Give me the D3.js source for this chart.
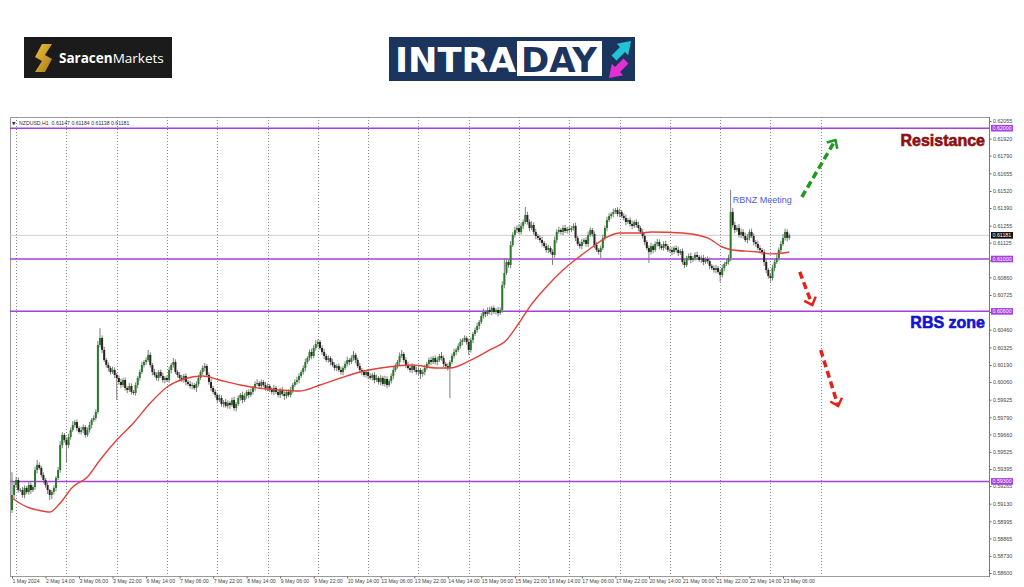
<!DOCTYPE html>
<html>
<head>
<meta charset="utf-8">
<script src="https://cdn.jsdelivr.net/npm/d3@7"></script>
<style>
	html, body { margin: 0; padding: 0; background: #fff; }
	svg { display: block; }
</style>
</head>
<body>
<div id="chart"></div>
<script>
// NZDUSD H1, prices in points (1e-5)
const firstOpen = 59082;

const closes = [
	59196, 59273, 59311, 59234, 59234, 59196, 59250, 59219, 59273, 59234, 59257,
	59387, 59426, 59403, 59349, 59311, 59273, 59234, 59196, 59219, 59250, 59326, 59387,
	59578, 59655, 59617, 59578, 59639, 59693, 59731, 59754, 59708, 59678, 59693, 59716, 59655, 59693,
	59731, 59770, 59785, 59831, 60343, 60396, 60305, 60228, 60190,
	60167, 60136, 60152, 60114, 60091, 60060, 60037, 60075, 60014, 59999, 60029, 59984, 59976,
	60037, 60091, 60136, 60190, 60213, 60228, 60267, 60190, 60136, 60114, 60091, 60136, 60106, 60075,
	60091, 60075, 60152, 60190, 60213, 60136, 60114, 60091, 60075, 60106, 60060, 60045, 60029, 60037, 60014, 60045,
	60091, 60136, 60167, 60182, 60114, 60060, 60014, 59984, 59961, 59922, 59938, 59892, 59907, 59877, 59900,
	59884, 59922, 59861, 59892, 59938, 59961, 59922, 59953, 59984, 59961,
	59984, 60014, 60045, 60052, 60029, 60060, 60037, 60014, 60029, 59999, 59984, 60014, 59984, 59961, 59999, 59968, 59953, 59984, 59961,
	59999, 60037, 60060, 60075, 60106, 60136, 60167, 60213, 60243, 60289, 60259, 60320, 60350, 60366, 60320,
	60289, 60259, 60228, 60243, 60213, 60190, 60167, 60182, 60152, 60136, 60167, 60198, 60228, 60213, 60243, 60267,
	60228, 60182, 60152, 60136, 60114, 60136, 60106, 60091, 60114, 60075, 60091, 60060, 60091, 60045, 60083, 60037, 60068,
	60106, 60152, 60182, 60213, 60259, 60274, 60228, 60190, 60167, 60152, 60182, 60152, 60136, 60152, 60121, 60136, 60167,
	60198, 60228, 60213, 60243, 60213, 60228, 60259, 60243, 60198, 60182, 60167, 60213, 60259, 60289, 60305, 60335,
	60366, 60381, 60396, 60366, 60305, 60381, 60427, 60457, 60488, 60519, 60564, 60595, 60580, 60610, 60595, 60626, 60595, 60610, 60587, 60610,
	60801, 60893, 60977, 60954, 61107, 61184, 61222, 61237, 61207, 61253, 61283, 61337, 61283, 61237, 61260, 61207, 61176,
	61161, 61145, 61122, 61099, 61069, 61084, 61054, 61031, 61145, 61207, 61222, 61207, 61237, 61214, 61230, 61222, 61237, 61253,
	61161, 61115, 61099, 61130, 61145, 61115, 61184, 61222, 61191, 61107, 61069, 61054, 61084, 61161, 61237, 61298, 61329,
	61344, 61360, 61375, 61344, 61360, 61329, 61314, 61283, 61298, 61268, 61253, 61283, 61260, 61237, 61207, 61176,
	61130, 61084, 61054, 61099, 61069, 61115, 61130, 61099, 61084, 61115, 61099, 61069, 61069, 61054, 61084, 61069, 61046, 61061,
	60977, 60954, 61008, 61023, 60993, 61008, 61031, 61016, 60993, 61008, 60977, 61000, 60985, 60947, 60931, 60916, 60931, 60901, 60878, 60931, 60962, 60977, 61008,
	61360, 61260, 61222, 61237, 61184, 61207, 61176, 61145, 61161, 61207, 61176, 61130, 61115, 61084, 61069, 61054,
	60977, 60916, 60870, 60855, 60931, 60977, 61008, 61069, 61115, 61161, 61207, 61161, 61181
];

// wick length above / below the body, points
const wickUp = [
	175, 30, 25, 20, 15, 25, 20, 15, 30, 20, 15, 25, 38, 20, 15, 20, 15, 20, 10, 15,
	20, 15, 25, 30, 20, 15, 20, 25, 20, 30, 15, 20, 15, 25, 20, 15, 20, 25, 15, 20,
	20, 30, 76, 20, 25, 15, 20, 15, 25, 20, 15, 20, 25, 15, 20, 15, 25, 20, 15, 20,
	15, 20, 25, 15, 20, 38, 20, 15, 25, 20, 15, 20, 25, 15, 20, 25, 15, 30, 20, 15,
	20, 25, 15, 20, 15, 25, 20, 15, 20, 25, 15, 20, 23, 15, 20, 25, 15, 20, 15, 25,
	20, 15, 25, 20, 15, 20, 25, 15, 20, 15, 25, 20, 15, 20, 25, 15, 20, 30, 15, 20,
	15, 25, 20, 15, 20, 25, 15, 20, 15, 25, 20, 15, 20, 25, 15, 20, 25, 20, 15, 20,
	25, 15, 20, 25, 20, 30, 20, 15, 20, 25, 15, 20, 15, 25, 20, 15, 20, 25, 15, 20,
	25, 15, 20, 30, 15, 20, 25, 15, 20, 15, 25, 20, 15, 20, 25, 15, 20, 15, 25, 20,
	15, 20, 25, 20, 15, 25, 30, 15, 20, 25, 15, 20, 15, 25, 20, 15, 20, 25, 15, 20,
	25, 15, 20, 25, 15, 30, 20, 15, 20, 15, 20, 25, 15, 20, 25, 15, 20, 15, 25, 20,
	15, 20, 25, 15, 20, 25, 15, 20, 25, 15, 20, 15, 25, 20, 30, 115, 25, 20, 30, 20,
	25, 20, 30, 25, 20, 61, 25, 20, 30, 20, 25, 15, 20, 25, 15, 20, 25, 15, 20, 25,
	20, 25, 15, 20, 25, 15, 20, 15, 20, 25, 15, 20, 25, 15, 20, 25, 20, 15, 20, 25,
	15, 20, 25, 20, 25, 20, 15, 25, 15, 20, 25, 15, 20, 25, 15, 20, 25, 15, 20, 25,
	15, 20, 25, 15, 20, 25, 15, 20, 25, 20, 15, 20, 25, 15, 20, 25, 15, 20, 25, 15,
	20, 25, 15, 20, 25, 15, 20, 25, 15, 20, 25, 15, 20, 25, 15, 20, 25, 15, 20, 25,
	15, 20, 25, 168, 30, 25, 20, 30, 25, 20, 25, 30, 20, 25, 20, 15, 25, 20, 15, 20,
	25, 15, 20, 25, 20, 25, 20, 25, 30, 25, 20, 15
];

const wickDown = [
	23, 30, 25, 20, 15, 20, 25, 15, 20, 30, 15, 20, 25, 15, 20, 25, 20, 30, 38, 30,
	20, 25, 15, 20, 25, 20, 130, 25, 20, 15, 20, 25, 15, 20, 25, 20, 15, 20, 25, 15,
	20, 15, 20, 25, 15, 20, 25, 20, 15, 25, 168, 20, 25, 15, 20, 25, 15, 20, 15, 20,
	25, 20, 15, 20, 25, 15, 20, 25, 15, 20, 25, 15, 20, 25, 15, 20, 25, 20, 15, 20,
	25, 15, 20, 25, 15, 20, 25, 15, 30, 20, 15, 20, 25, 15, 20, 25, 15, 20, 25, 15,
	20, 25, 15, 20, 30, 15, 20, 25, 15, 20, 25, 15, 20, 25, 15, 20, 25, 15, 20, 25,
	15, 20, 25, 15, 20, 25, 15, 20, 25, 15, 30, 20, 15, 20, 25, 15, 20, 25, 15, 20,
	25, 15, 20, 25, 15, 20, 25, 15, 20, 25, 15, 20, 25, 15, 20, 25, 15, 20, 25, 15,
	20, 25, 15, 20, 25, 15, 20, 25, 15, 20, 25, 15, 20, 25, 15, 20, 25, 15, 20, 25,
	15, 20, 25, 15, 20, 25, 15, 20, 25, 15, 20, 25, 15, 20, 25, 38, 20, 25, 15, 20,
	25, 15, 20, 25, 15, 20, 25, 15, 20, 230, 15, 20, 25, 15, 20, 25, 15, 20, 38, 20,
	25, 15, 20, 25, 15, 20, 25, 15, 20, 25, 15, 20, 25, 15, 20, 25, 15, 20, 25, 15,
	20, 25, 15, 20, 25, 15, 20, 25, 15, 20, 25, 15, 20, 25, 15, 20, 25, 15, 76, 20,
	25, 15, 20, 25, 15, 20, 25, 15, 20, 25, 15, 20, 25, 15, 20, 25, 15, 20, 25, 15,
	20, 46, 15, 20, 25, 15, 20, 25, 15, 20, 25, 15, 20, 25, 15, 20, 25, 15, 20, 25,
	15, 20, 25, 15, 84, 20, 25, 15, 20, 25, 15, 20, 25, 15, 20, 25, 15, 20, 25, 15,
	20, 23, 15, 20, 25, 15, 20, 25, 15, 20, 25, 15, 20, 25, 15, 20, 25, 15, 53, 20,
	25, 15, 20, 25, 20, 25, 15, 20, 25, 20, 15, 25, 20, 15, 25, 20, 15, 25, 20, 30,
	25, 20, 30, 20, 25, 15, 20, 25, 15, 20, 25, 15
];

// moving average read at some bars
const maBars = [0, 7, 12, 18, 23, 29, 36, 42, 50, 58, 66, 74, 82, 91, 99, 109, 114, 128, 137, 147, 157, 166, 176, 191, 203, 209, 219, 228, 236, 242, 247, 255, 263, 270, 277, 284, 290, 300, 305, 320, 332, 339, 344, 356, 362, 368, 371];
const maValues = [59173, 59105, 59082, 59066, 59135, 59257, 59334, 59464, 59617, 59747, 59899, 60022, 60083, 60106, 60075, 60037, 60022, 59999, 59991, 60037, 60091, 60136, 60167, 60190, 60167, 60167, 60228, 60305, 60381, 60511, 60633, 60786, 60916, 61008, 61092, 61168, 61199, 61199, 61207, 61199, 61161, 61092, 61069, 61054, 61039, 61046, 61054];

const timeLabels = ['1 May 2024', '2 May 14:00', '3 May 06:00', '3 May 22:00', '6 May 14:00', '7 May 06:00', '7 May 22:00', '8 May 14:00', '9 May 06:00', '9 May 22:00', '10 May 14:00', '13 May 06:00', '13 May 22:00', '14 May 14:00', '15 May 06:00', '15 May 22:00', '16 May 14:00', '17 May 06:00', '17 May 22:00', '20 May 14:00', '21 May 06:00', '21 May 22:00', '22 May 14:00', '23 May 06:00'];
const labelBars = [0, 16, 32, 48, 64, 80, 96, 112, 128, 144, 160, 176, 192, 208, 224, 240, 256, 272, 288, 304, 320, 336, 352, 368];
const gridBars = [2, 26, 50, 74, 98, 122, 146, 170, 194, 218, 242, 266, 290, 314, 338, 362, 386];

const priceTicks = [62055, 61920, 61790, 61655, 61520, 61390, 61255, 61125, 60990, 60860, 60725, 60595, 60460, 60325, 60190, 60060, 59925, 59790, 59660, 59525, 59395, 59265, 59130, 58995, 58865, 58730, 58600];
const levels = [62000, 61000, 60600, 59300];
const lastPrice = 61181;
const headerText = 'NZDUSD,H1  0.61147 0.61184 0.61138 0.61181';

// arrows: [bar, price]
const arrows = [
	{ from: [377, 61474], to: [393, 61910], color: '#1e9a1e' },
	{ from: [376, 60901], to: [382, 60649], color: '#e2231a' },
	{ from: [386, 60305], to: [394.3, 59877], color: '#e2231a' }
];

const width = 1024;
const height = 587;
const plot = { left: 10, right: 989, top: 117, bottom: 576 };
const fmt = (d) => (d / 1e5).toFixed(5);

const svg = d3.select('#chart').append('svg').attr('width', width).attr('height', height);

const x = d3.scaleLinear().domain([ 0, 368 ]).range([ 12, 783 ]);
const y = d3.scaleLinear().domain([ 58600, 62055 ]).range([ 573, 121 ]);

// ---- logos
const sar = svg.append('g');
sar.append('rect').attr('x', 24).attr('y', 37).attr('width', 148).attr('height', 41).attr('fill', '#1b1b1b');
const gold = svg.append('defs').append('linearGradient').attr('id', 'gold').attr('x1', 0).attr('y1', 0).attr('x2', 1).attr('y2', 1);
gold.append('stop').attr('offset', '0%').attr('stop-color', '#f2c23a');
gold.append('stop').attr('offset', '100%').attr('stop-color', '#a8781c');
sar.append('path')
	.attr('d', 'M42,44 L52,44 L45,55 L52,59 L45,72 L35,72 L42,61 L35,57 Z')
	.attr('fill', 'url(#gold)');
const sarText = sar.append('text')
	.attr('x', 59).attr('y', 63)
	.style('font-family', 'Open Sans, sans-serif')
	.style('font-size', '13.5px')
	.attr('fill', '#fff');
sarText.append('tspan').style('font-weight', 'bold').text('Saracen');
sarText.append('tspan').text('Markets');

const intra = svg.append('g');
intra.append('rect').attr('x', 389).attr('y', 37).attr('width', 246).attr('height', 44).attr('fill', '#1c355f');
intra.append('text')
	.attr('x', 395).attr('y', 72)
	.attr('textLength', 121).attr('lengthAdjust', 'spacingAndGlyphs')
	.style('font-family', 'DejaVu Sans, sans-serif')
	.style('font-weight', 'bold').style('font-size', '34px')
	.attr('fill', '#fff').text('INTRA');
intra.append('rect').attr('x', 517).attr('y', 41).attr('width', 85).attr('height', 35).attr('fill', '#fff');
intra.append('text')
	.attr('x', 521).attr('y', 72)
	.attr('textLength', 76).attr('lengthAdjust', 'spacingAndGlyphs')
	.style('font-family', 'DejaVu Sans, sans-serif')
	.style('font-weight', 'bold').style('font-size', '34px')
	.attr('fill', '#1c355f').text('DAY');
intra.append('polygon')
	.attr('points', '631,41 628.2,55.2 625,52 616.5,60.5 611.5,55.5 620,47 616.8,43.8')
	.attr('fill', '#22c3d3');
intra.append('polygon')
	.attr('points', '609,78 623.2,75.2 620,72 628.5,63.5 623.5,58.5 615,67 611.8,63.8')
	.attr('fill', '#e52fd2');

// ---- chart frame
svg.append('defs').append('clipPath').attr('id', 'plotClip')
	.append('rect')
	.attr('x', plot.left).attr('y', plot.top)
	.attr('width', plot.right - plot.left).attr('height', plot.bottom - plot.top);

svg.append('rect')
	.attr('x', plot.left + 0.5).attr('y', plot.top + 0.5)
	.attr('width', plot.right - plot.left).attr('height', plot.bottom - plot.top)
	.attr('fill', '#fff').attr('stroke', '#9a9a9a');

const chart = svg.append('g').attr('clip-path', 'url(#plotClip)');

// vertical dotted grid
chart.selectAll('.grid')
	.data(gridBars)
	.join('line')
	.attr('x1', (d) => Math.round(x(d)) + 0.5).attr('x2', (d) => Math.round(x(d)) + 0.5)
	.attr('y1', plot.top).attr('y2', plot.bottom)
	.style('stroke', '#7a7a7a').style('stroke-width', 0.9).style('stroke-dasharray', '1, 2');

// current price line
chart.append('line')
	.attr('x1', plot.left).attr('x2', plot.right)
	.attr('y1', y(lastPrice)).attr('y2', y(lastPrice))
	.style('stroke', '#cfcfcf');

// level lines
chart.selectAll('.level')
	.data(levels)
	.join('line')
	.attr('x1', plot.left).attr('x2', plot.right)
	.attr('y1', (d) => y(d)).attr('y2', (d) => y(d))
	.style('stroke', '#a63fe0').style('stroke-width', 1.5);

// candles
const candles = closes.map((c, i) => {
	const o = i === 0 ? firstOpen : closes[i - 1];
	return { i, o, c, h: Math.max(o, c) + (wickUp[i] || 0), l: Math.min(o, c) - (wickDown[i] || 0) };
});

chart.append('g').selectAll('line')
	.data(candles)
	.join('line')
	.attr('x1', (d) => x(d.i)).attr('x2', (d) => x(d.i))
	.attr('y1', (d) => y(d.h)).attr('y2', (d) => y(d.l))
	.style('stroke', '#7d7d7d').style('stroke-width', 1);

chart.append('g').selectAll('rect')
	.data(candles)
	.join('rect')
	.attr('x', (d) => x(d.i) - 1)
	.attr('width', 2)
	.attr('y', (d) => y(Math.max(d.o, d.c)))
	.attr('height', (d) => Math.max(0.8, Math.abs(y(d.o) - y(d.c))))
	.attr('fill', (d) => (d.c >= d.o ? '#2a7a2c' : '#2a221e'));

// moving average
const maLine = d3.line().x((d) => x(d[0])).y((d) => y(d[1])).curve(d3.curveMonotoneX);
chart.append('path')
	.datum(maBars.map((b, i) => [ b, maValues[i] ]))
	.attr('d', maLine)
	.style('fill', 'none').style('stroke', '#e3403a').style('stroke-width', 1.4);

// header
svg.append('text')
	.attr('x', 12).attr('y', 125)
	.style('font-family', 'DejaVu Sans, sans-serif').style('font-size', '4.5px')
	.attr('fill', '#333').text('\u25BC');
svg.append('text')
	.attr('x', 19).attr('y', 125)
	.style('font-family', 'Liberation Sans, Arial, sans-serif').style('font-size', '5.2px')
	.attr('fill', '#333').style('white-space', 'pre').text(headerText);

// annotations
svg.append('text')
	.attr('x', x(344)).attr('y', y(61450) + 3)
	.style('font-family', 'Liberation Sans, Arial, sans-serif').style('font-size', '9px')
	.attr('fill', '#4f5bd5').text('RBNZ Meeting');

svg.append('text')
	.attr('x', plot.right - 4).attr('y', y(62000) + 18)
	.attr('text-anchor', 'end')
	.style('font-family', 'Liberation Sans, Arial, sans-serif').style('font-weight', 'bold').style('font-size', '16px')
	.style('stroke', '#8e0f0f').style('stroke-width', 0.6)
	.attr('fill', '#8e0f0f').text('Resistance');

svg.append('text')
	.attr('x', plot.right - 4).attr('y', y(60600) + 17)
	.attr('text-anchor', 'end')
	.style('font-family', 'Liberation Sans, Arial, sans-serif').style('font-weight', 'bold').style('font-size', '16px')
	.style('stroke', '#1212d2').style('stroke-width', 0.6)
	.attr('fill', '#1212d2').text('RBS zone');

arrows.forEach((a) => {
	const x1 = x(a.from[0]);
	const y1 = y(a.from[1]);
	const x2 = x(a.to[0]);
	const y2 = y(a.to[1]);
	const ang = Math.atan2(y2 - y1, x2 - x1);
	const len = 9;
	const spread = 0.75;
	svg.append('line')
		.attr('x1', x1).attr('y1', y1).attr('x2', x2).attr('y2', y2)
		.style('stroke', a.color).style('stroke-width', 3.5).style('stroke-dasharray', '7, 4');
	svg.append('path')
		.attr('d', `M${x2 - len * Math.cos(ang - spread)},${y2 - len * Math.sin(ang - spread)}L${x2},${y2}L${x2 - len * Math.cos(ang + spread)},${y2 - len * Math.sin(ang + spread)}`)
		.style('fill', 'none').style('stroke', a.color).style('stroke-width', 2.5);
});

// axes; labels hidden under a price box are not drawn (as in the terminal)
const underBox = (d) => levels.concat([ lastPrice ]).some((v) => Math.abs(v - d) < 20);
const yAxis = d3.axisRight(y).tickValues(priceTicks).tickSize(2).tickSizeOuter(0).tickPadding(1.5)
	.tickFormat((d) => (underBox(d) ? '' : fmt(d)));
const yG = svg.append('g').attr('transform', `translate(${plot.right + 0.5}, 0)`).call(yAxis);
yG.select('.domain').remove();
yG.selectAll('line').style('stroke', '#666');
yG.selectAll('text').style('font-family', 'Liberation Sans, Arial, sans-serif').style('font-size', '5.3px').attr('fill', '#444');

const xAxis = d3.axisBottom(x).tickValues(labelBars).tickSize(2).tickSizeOuter(0).tickPadding(1).tickFormat((d, i) => timeLabels[i]);
const xG = svg.append('g').attr('transform', `translate(0, ${plot.bottom + 0.5})`).call(xAxis);
xG.select('.domain').remove();
xG.selectAll('line').style('stroke', '#666');
xG.selectAll('text').attr('text-anchor', 'start').style('font-family', 'Liberation Sans, Arial, sans-serif').style('font-size', '5.2px').attr('fill', '#444');

svg.append('line')
	.attr('x1', plot.right + 0.5).attr('x2', plot.right + 0.5)
	.attr('y1', plot.top).attr('y2', plot.bottom + 1)
	.style('stroke', '#777');

// price boxes
const boxes = levels.map((v) => ({ v, fill: '#a63fe0' })).concat([ { v: lastPrice, fill: '#111' } ]);
const boxG = svg.selectAll('.box').data(boxes).join('g')
	.attr('transform', (d) => `translate(${plot.right + 2}, ${y(d.v)})`);
boxG.append('rect').attr('x', 0).attr('y', -3.3).attr('width', 22).attr('height', 6.6).attr('fill', (d) => d.fill);
boxG.append('text').attr('x', 1.5).attr('y', 1.9)
	.style('font-family', 'Liberation Sans, Arial, sans-serif').style('font-size', '5.3px')
	.attr('fill', '#fff').text((d) => fmt(d.v));
</script>
</body>
</html>
